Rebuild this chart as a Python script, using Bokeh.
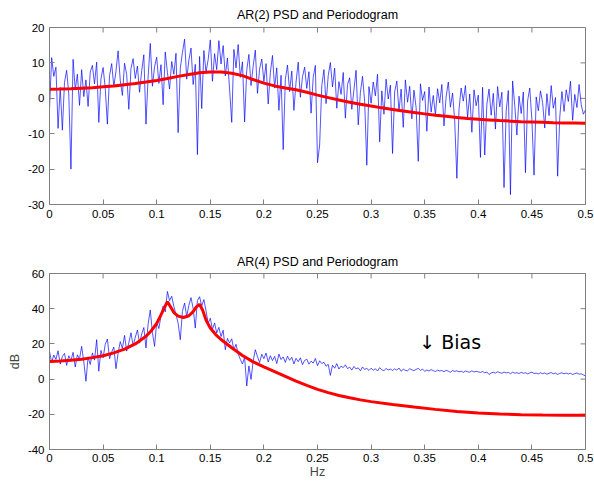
import math
from bokeh.plotting import figure
from bokeh.models import Range1d, FixedTicker, Label
from bokeh.layouts import column
from bokeh.embed import file_html
from bokeh.resources import INLINE

FONT = "Liberation Sans"
AXIS_GRAY = "#808080"

# ---------------- data ----------------
# periodogram frequency grid (Hz), 0 .. 0.5 in steps of 0.002
pgram_hz = [round(k * 0.002, 3) for k in range(251)]

# AR(2): periodogram (dB)
ar2_pgram_db = [
    -3.0, 11.5, 6.2, 8.8, -8.5, 3.1, -9.0, 4.5, 7.9, 1.2,
    -20.0, 11.0, 2.4, 6.8, -2.0, 8.1, 0.5, 5.2, -2.3, 7.4,
    9.3, 4.1, 10.2, -6.8, 5.5, 8.7, 2.9, -7.3, 6.4, 9.8,
    3.3, 7.6, 13.4, 5.1, 0.8, 9.9, 6.7, -3.1, 8.4, 11.2,
    5.6, 9.1, 1.7, 7.8, 12.3, -7.3, 6.0, 15.5, 3.4, 8.9,
    11.6, 4.2, 9.5, -1.8, 13.1, 7.3, 2.6, 10.4, 6.8, 12.7,
    -9.7, 8.5, 12.9, 16.7, 5.4, 10.8, 14.2, 3.9, 9.6, -15.9,
    11.8, -2.9, 13.5, 7.4, 10.9, 16.5, 4.8, 12.6, 8.1, 16.3,
    9.7, 14.9, 6.3, 11.4, 2.5, -6.8, 13.8, 8.6, 15.2, 5.9,
    10.3, -6.7, 7.9, 12.4, 3.6, 9.1, 13.6, 1.4, 8.3, 11.1,
    4.7, 9.8, -1.6, 7.2, 12.1, 2.9, 8.6, -3.4, 6.5, -14.5,
    5.3, 9.4, 1.9, 7.7, -3.4, 4.6, 10.2, 0.3, 6.1, 8.8,
    2.8, 7.5, -4.2, 5.9, 9.3, -18.2, -13.2, 3.6, 8.1, -1.5,
    6.4, 10.1, 3.2, 8.5, -2.8, 4.7, 1.1, 7.3, -5.6, 3.9,
    5.8, -3.1, 2.4, 7.9, -7.5, 1.6, 6.2, -0.9, -18.9, 3.3,
    -1.4, 4.6, 0.7, 6.8, -12.3, 2.1, -4.5, 5.4, -0.2, 3.7,
    -15.6, 1.8, 4.9, -3.7, 2.6, -8.2, 5.2, -1.1, 3.4, -5.8,
    2.3, -2.6, -17.8, 4.1, -0.6, 1.9, -9.3, 3.2, -3.9, 0.8,
    -4.7, 2.7, -1.3, 3.9, -7.8, 0.4, 4.6, -2.5, 1.5, -6.4,
    -22.6, -3.2, 2.9, -0.8, 3.6, -5.5, 1.2, -9.6, 2.4, -2.1,
    0.9, -16.7, 3.1, -16.0, -1.7, 2.6, -4.8, 1.4, -8.7, 3.3,
    -2.4, 1.7, -25.2, -3.6, 2.2, -27.2, 4.9, -1.9, -10.4, 0.6,
    -4.3, 1.8, -21.0, -0.7, 2.9, -6.1, -21.7, 0.4, -3.5, 2.1,
    -1.2, -8.4, 1.3, -4.9, 3.6, -2.8, 0.2, -22.0, -5.3, 1.9,
    -3.7, 2.4, -0.9, 4.8, -6.2, 1.1, -2.6, 3.9, -1.8, -4.5, -3.3,
]

# AR(2): true PSD (dB)
ar2_psd_hz = [0.00, 0.01, 0.02, 0.03, 0.04, 0.05, 0.06, 0.07, 0.08, 0.09,
              0.10, 0.11, 0.12, 0.13, 0.14, 0.15, 0.16, 0.17, 0.18, 0.19,
              0.20, 0.21, 0.22, 0.23, 0.24, 0.25, 0.26, 0.27, 0.28, 0.29,
              0.30, 0.31, 0.32, 0.33, 0.34, 0.35, 0.36, 0.37, 0.38, 0.39,
              0.40, 0.41, 0.42, 0.43, 0.44, 0.45, 0.46, 0.47, 0.48, 0.49, 0.50]
ar2_psd_db = [2.55, 2.6, 2.7, 2.85, 3.0, 3.25, 3.5, 3.85, 4.2, 4.6,
              5.05, 5.6, 6.2, 6.75, 7.2, 7.45, 7.45, 7.1, 6.4, 5.3,
              4.3, 3.5, 2.9, 2.4, 1.7, 0.9, 0.2, -0.5, -1.1, -1.7,
              -2.2, -2.7, -3.15, -3.6, -4.0, -4.4, -4.8, -5.1, -5.4, -5.7,
              -5.9, -6.1, -6.3, -6.45, -6.6, -6.7, -6.8, -6.9, -6.95, -7.0, -7.05]

# AR(4): periodogram (dB)
ar4_pgram_db = [
    15.8, 9.4, 13.7, 11.2, 16.1, 8.5, 12.9, 14.6, 7.8, 13.3,
    10.6, 15.2, 6.9, 13.8, 11.4, 18.6, 9.7, -1.2, 12.5, 8.3,
    14.9, 10.8, 22.4, 4.5, 16.3, 12.1, 19.7, 22.8, 11.6, 15.4,
    18.2, 5.9, 14.7, 21.3, 17.4, 24.8, 15.9, 20.6, 26.3, 18.9,
    23.7, 27.9, 20.4, 25.6, 29.3, 17.7, 31.2, 39.3, 26.5, 18.6,
    32.4, 28.7, 35.9, 41.6, 38.2, 49.8, 44.6, 47.1, 41.3, 36.8,
    31.7, 22.4, 38.5, 43.2, 35.6, 41.9, 46.3, 40.2, 29.0, 44.7,
    46.8, 41.5, 45.2, 38.9, 31.7, 34.6, 28.3, 31.9, 26.2, 29.4,
    24.2, 27.8, 16.7, 23.1, 20.5, 22.9, 16.7, 19.8, 14.3, 11.2,
    8.6, 12.4, -3.9, 7.5, -0.2, 10.3, 16.7, 12.8, 9.4, 14.1,
    11.6, 14.8, 9.7, 13.3, 10.5, 12.9, 8.8, 14.2, 11.1, 12.6,
    9.5, 13.0, 10.7, 12.4, 8.6, 11.8, 9.9, 12.1, 8.2, 10.6,
    11.3, 8.5, 10.2, 9.1, 11.7, 7.6, 10.4, 8.8, 9.6, 7.3,
    8.4, 2.1, 7.9, 6.2, 8.8, 5.7, 7.4, 6.5, 8.1, 5.9,
    6.8, 5.1, 7.2, 5.8, 6.4, 4.7, 6.9, 5.5, 6.1, 4.9,
    6.2, 5.0, 5.9, 4.6, 6.5, 5.3, 4.8, 6.0, 5.2, 5.7,
    4.9, 5.8, 5.1, 6.3, 4.5, 5.6, 5.0, 4.7, 5.9, 5.3,
    4.8, 5.5, 6.1, 4.9, 5.7, 4.4, 5.2, 4.6, 5.4, 4.8,
    4.3, 5.1, 4.6, 4.9, 4.2, 5.0, 4.5, 3.9, 4.8, 4.4,
    4.7, 4.1, 4.5, 3.8, 4.6, 4.2, 3.9, 4.7, 4.0, 4.4,
    4.1, 3.8, 4.3, 3.6, 4.0, 2.6, 3.5, 3.9, 3.4, 4.2,
    3.7, 3.3, 4.0, 3.5, 3.8, 3.1, 3.9, 3.4, 3.6, 3.2,
    3.8, 3.3, 3.6, 3.0, 3.5, 3.9, 3.2, 3.4, 2.9, 3.6,
    3.1, 3.5, 2.8, 3.3, 3.7, 3.0, 3.4, 2.7, 3.2, 3.6,
    3.0, 3.4, 2.9, 3.3, 2.6, 3.1, 3.5, 2.8, 3.0, 2.4, 1.8,
]

# AR(4): true PSD (dB)
ar4_psd_hz = [0.00, 0.01, 0.02, 0.03, 0.04, 0.05, 0.06, 0.07, 0.08, 0.09,
              0.095, 0.10, 0.104, 0.107, 0.11, 0.113, 0.116, 0.12, 0.125, 0.13,
              0.134, 0.137, 0.14, 0.143, 0.146, 0.15, 0.155, 0.16, 0.17, 0.18,
              0.19, 0.20, 0.21, 0.22, 0.23, 0.24, 0.25, 0.26, 0.27, 0.28,
              0.29, 0.30, 0.32, 0.34, 0.36, 0.38, 0.40, 0.42, 0.44, 0.46,
              0.48, 0.50]
ar4_psd_db = [10.0, 10.3, 10.7, 11.3, 12.2, 13.3, 14.9, 17.0, 20.0, 24.3,
              27.5, 31.6, 36.5, 40.5, 44.0, 41.0, 37.8, 35.8, 35.0, 36.0,
              38.3, 41.0, 42.5, 39.0, 33.5, 29.0, 25.3, 22.5, 17.8, 13.4,
              9.8, 6.9, 4.2, 1.5, -1.2, -3.6, -5.8, -7.7, -9.3, -10.6,
              -11.8, -12.8, -14.4, -15.9, -17.2, -18.4, -19.2, -19.8, -20.2, -20.4,
              -20.5, -20.5]

x_ticks = [0, 0.05, 0.1, 0.15, 0.2, 0.25, 0.3, 0.35, 0.4, 0.45, 0.5]
x_tick_labels = ["0", "0.05", "0.1", "0.15", "0.2", "0.25", "0.3", "0.35", "0.4", "0.45", "0.5"]
ar2_y_ticks = [-30, -20, -10, 0, 10, 20]
ar4_y_ticks = [-40, -20, 0, 20, 40, 60]

titles = ["AR(2) PSD and Periodogram", "AR(4) PSD and Periodogram"]
x_label = "Hz"
y_label = "dB"
annotation = "\u2193 Bias"


def style_axis(ax, ticks, overrides):
    ax.ticker = FixedTicker(ticks=ticks)
    ax.major_tick_in = 5
    ax.major_tick_out = 0
    ax.minor_tick_line_color = None
    ax.axis_line_color = AXIS_GRAY
    ax.major_tick_line_color = AXIS_GRAY
    ax.major_label_text_font = FONT
    ax.major_label_text_font_size = "11.5px"
    ax.major_label_text_color = "black"
    ax.major_label_standoff = 5
    ax.major_label_overrides = overrides


def make_fig(height, top, bottom, y0, y1, yticks, title, title_standoff):
    p = figure(width=594, height=height,
               x_range=Range1d(0, 0.5), y_range=Range1d(y0, y1),
               output_backend="svg", toolbar_location=None,
               min_border_left=49, min_border_right=9,
               min_border_top=top, min_border_bottom=bottom,
               background_fill_color="white", border_fill_color="white",
               outline_line_color=AXIS_GRAY)
    p.xgrid.visible = False
    p.ygrid.visible = False
    style_axis(p.xaxis[0], x_ticks,
               {float(t): s for t, s in zip(x_ticks, x_tick_labels)})
    style_axis(p.yaxis[0], yticks, {float(t): str(t) for t in yticks})
    # inward tick marks on the top and right edges (half of each dash is clipped)
    p.scatter(x_ticks, [y1] * len(x_ticks), marker="dash", size=10,
              angle=math.pi / 2, line_color=AXIS_GRAY, line_width=1)
    p.scatter([0.5] * len(yticks), yticks, marker="dash", size=10,
              line_color=AXIS_GRAY, line_width=1)
    p.title.text = title
    p.title.align = "center"
    p.title.text_font = FONT
    p.title.text_font_size = "12.5px"
    p.title.text_font_style = "normal"
    p.title.text_color = "black"
    p.title.standoff = title_standoff
    return p


p1 = make_fig(238, 27, 34, -30, 20, ar2_y_ticks, titles[0], 11)
p1.line(pgram_hz, ar2_pgram_db, line_color="#0000ff", line_width=0.8, line_alpha=0.85)
p1.line(ar2_psd_hz, ar2_psd_db, line_color="#ff0000", line_width=3)

p2 = make_fig(243, 35, 31, -40, 60, ar4_y_ticks, titles[1], 9)
p2.line(pgram_hz, ar4_pgram_db, line_color="#0000ff", line_width=0.8, line_alpha=0.85)
p2.line(ar4_psd_hz, ar4_psd_db, line_color="#ff0000", line_width=3)

p2.add_layout(Label(x=0.345, y=21.3, text=annotation, text_font="DejaVu Sans",
                    text_font_size="19px", text_baseline="middle",
                    text_color="black"))
p2.xaxis[0].axis_label = x_label
p2.xaxis[0].axis_label_text_font = FONT
p2.xaxis[0].axis_label_text_font_size = "12.5px"
p2.xaxis[0].axis_label_text_font_style = "normal"
p2.xaxis[0].axis_label_standoff = 0
p2.xaxis[0].major_label_standoff = 4
p2.yaxis[0].axis_label = y_label
p2.yaxis[0].axis_label_text_font = FONT
p2.yaxis[0].axis_label_text_font_size = "12.5px"
p2.yaxis[0].axis_label_text_font_style = "normal"
p2.yaxis[0].axis_label_standoff = 3

layout = column(p1, p2)
open("out.html", "w").write(file_html(layout, INLINE))
